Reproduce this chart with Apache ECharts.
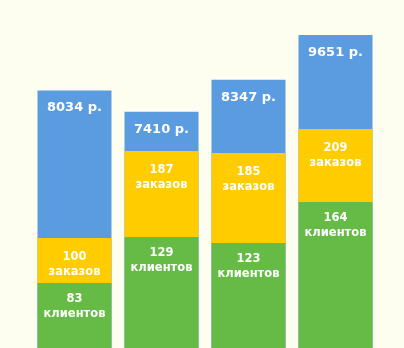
<!DOCTYPE html>
<html><head><meta charset="utf-8">
<script src="https://cdn.jsdelivr.net/npm/echarts@6/dist/echarts.min.js"></script>
<style>html,body{margin:0;padding:0;background:#fefef0;}#c{width:404px;height:348px;}</style>
</head><body><div id="c"></div>
<script>
var categories = ['1', '2', '3', '4'];
var clients = [83, 129, 123, 164];
var orders = [100, 187, 185, 209];
var revenue = [8034, 7410, 8347, 9651];
// height of the orders segment as drawn (in client-axis units)
var ordersSegment = [45, 86, 90, 73];

var chart = echarts.init(document.getElementById('c'), null, {renderer: 'canvas'});
var FONT = '"DejaVu Sans", Verdana, sans-serif';
chart.setOption({
  backgroundColor: '#fefef0',
  animation: false,
  grid: {left: 31, right: 25, top: 28, bottom: 0},
  xAxis: {type: 'category', data: categories, show: false},
  yAxis: [
    {type: 'value', min: 18, max: 338, show: false},
    {type: 'value', min: 524.8, max: 9854.2, show: false}
  ],
  series: [
    {
      type: 'bar', yAxisIndex: 1, data: revenue, barWidth: 74, barGap: '-100%',
      itemStyle: {color: '#5b9be0'},
      label: {show: true, position: 'insideTop', distance: 11, color: '#fff',
        fontFamily: FONT, fontWeight: 'bold', fontSize: 13,
        formatter: function (p) { return p.value + ' р.'; }}
    },
    {
      type: 'bar', yAxisIndex: 0, stack: 's', data: clients, barWidth: 74,
      itemStyle: {color: '#66bb46'},
      label: {show: true, position: 'insideTop', distance: 8, color: '#fff',
        fontFamily: FONT, fontWeight: 'bold', fontSize: 11.5, lineHeight: 15.5,
        formatter: function (p) { return clients[p.dataIndex] + '\nклиентов'; }}
    },
    {
      type: 'bar', yAxisIndex: 0, stack: 's', data: ordersSegment, barWidth: 74,
      itemStyle: {color: '#ffcc00'},
      label: {show: true, position: 'insideTop', distance: 11, color: '#fff',
        fontFamily: FONT, fontWeight: 'bold', fontSize: 11.5, lineHeight: 15.5,
        formatter: function (p) { return orders[p.dataIndex] + '\nзаказов'; }}
    }
  ]
});
</script></body></html>
